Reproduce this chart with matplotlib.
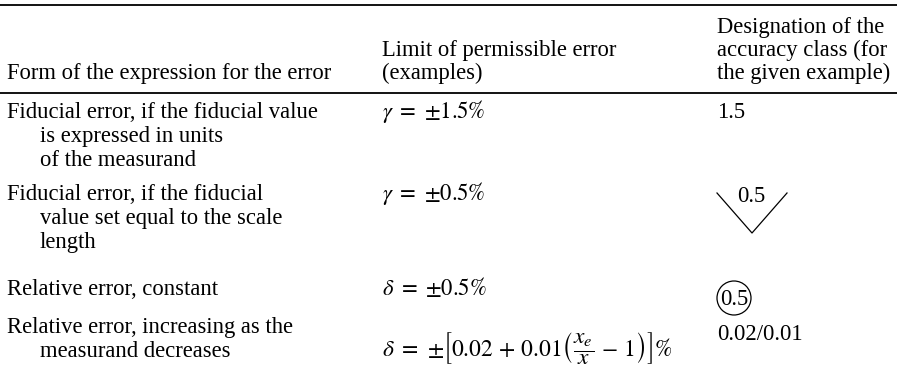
import matplotlib
matplotlib.use("Agg")
import matplotlib.pyplot as plt
from matplotlib.patches import Circle

plt.rcParams['font.family'] = ['Liberation Serif', 'DejaVu Serif']
plt.rcParams['mathtext.fontset'] = 'stix'

# ---- table content ----
header_col1 = ["Form of the expression for the error"]
header_col2 = ["Limit of permissible error", "(examples)"]
header_col3 = ["Designation of the", "accuracy class (for", "the given example)"]

row_forms = [
    ["Fiducial error, if the fiducial value", "is expressed in units", "of the measurand"],
    ["Fiducial error, if the fiducial", "value set equal to the scale", "length"],
    ["Relative error, constant"],
    ["Relative error, increasing as the", "measurand decreases"],
]
row_limits = [
    r"$\gamma\ =\ {\pm}1.5\%$",
    r"$\gamma\ =\ {\pm}0.5\%$",
    r"$\delta\ =\ {\pm}0.5\%$",
    r"$\delta\ =\ {\pm}\left[0.02\,+\,0.01\left(\dfrac{x_e}{x}\,-\,1\right)\right]\%$",
]
row_classes = ["1.5", "0.5", "0.5", "0.02/0.01"]
class_styles = ["plain", "vee", "circle", "plain"]

# ---- layout (pixels) ----
W, H = 897, 374
FS = 16.3
LS = 24
X1, XIND, X2, X3 = 7, 40, 382, 717
row_first_baseline = [118, 200, 295, 333]
limit_baseline = [118, 200, 295, 356]
limit_fs = [FS, FS, FS, 16.9]
class_baseline = [118, 202, 305, 340]

fig = plt.figure(figsize=(W / 100, H / 100), dpi=100)
ax = fig.add_axes([0, 0, 1, 1])
ax.set_xlim(0, W)
ax.set_ylim(H, 0)
ax.axis('off')

def txt(x, y, s, ha='left', fs=FS):
    ax.text(x, y, s, fontsize=fs, ha=ha, va='baseline', color='black')

# rules
ax.plot([0, W], [5, 5], color='black', lw=1.3, solid_capstyle='butt')
ax.plot([0, W], [93, 93], color='black', lw=1.3, solid_capstyle='butt')

# header
hdr_last = 79
for i, s in enumerate(header_col1):
    txt(X1, hdr_last - (len(header_col1) - 1 - i) * 23, s)
for i, s in enumerate(header_col2):
    txt(X2, hdr_last - (len(header_col2) - 1 - i) * 23, s)
for i, s in enumerate(header_col3):
    txt(X3, hdr_last - (len(header_col3) - 1 - i) * 23, s)

# body
for r, lines in enumerate(row_forms):
    y0 = row_first_baseline[r]
    for i, s in enumerate(lines):
        txt(X1 if i == 0 else XIND, y0 + i * LS, s)
    txt(X2, limit_baseline[r], row_limits[r], fs=limit_fs[r])
    style = class_styles[r]
    yb = class_baseline[r]
    if style == "plain":
        txt(X3, yb, row_classes[r])
    elif style == "vee":
        ax.plot([X3, X3 + 35, X3 + 70], [193, 233, 193], color='black', lw=0.9)
        txt(X3 + 34, yb, row_classes[r], ha='center')
    elif style == "circle":
        ax.add_patch(Circle((X3 + 17, 298), 17, fill=False, ec='black', lw=0.9))
        txt(X3 + 17, yb, row_classes[r], ha='center')

fig.savefig("out.png", dpi=100, facecolor='white')
